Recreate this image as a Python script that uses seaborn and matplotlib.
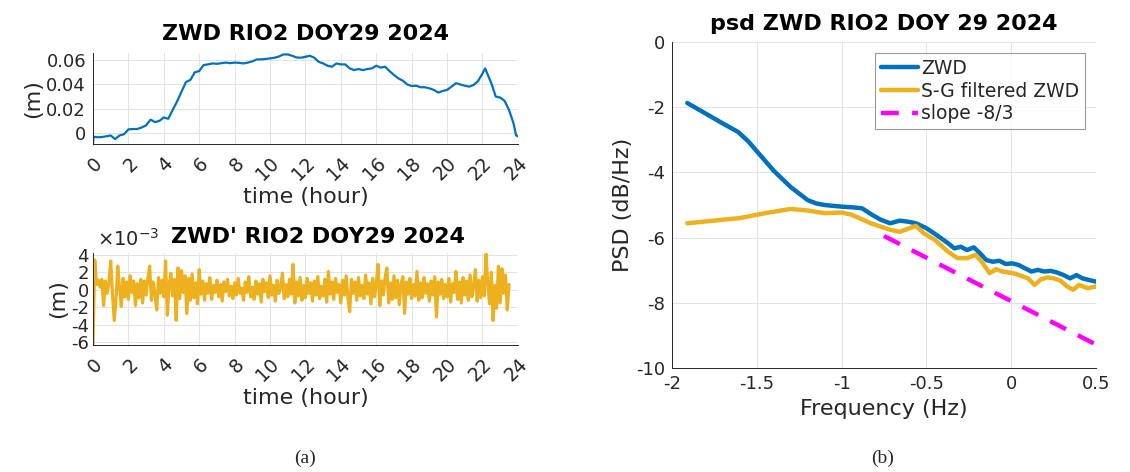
import numpy as np
import pandas as pd
import matplotlib
matplotlib.use("Agg")
import matplotlib.pyplot as plt
import matplotlib.transforms as mtransforms
import seaborn as sns

# ---------------- data ----------------
# Zenith wet delay (m) over the day
zwd_hours = [0.0, 0.03, 0.25, 0.5, 0.75, 1.0, 1.25, 1.5, 1.75, 2.0, 2.25, 2.5, 2.75,
             3.0, 3.25, 3.5, 3.75, 4.0, 4.25, 4.5, 4.75, 5.0, 5.25, 5.5, 5.75,
             6.0, 6.25, 6.5, 6.75, 7.0, 7.25, 7.5, 7.75, 8.0, 8.25, 8.5, 8.75,
             9.0, 9.25, 9.5, 9.75, 10.0, 10.25, 10.5, 10.75, 11.0, 11.25, 11.5, 11.75,
             12.0, 12.25, 12.5, 12.75, 13.0, 13.25, 13.5, 13.75, 14.0, 14.25, 14.5, 14.75,
             15.0, 15.25, 15.5, 15.75, 16.0, 16.25, 16.5, 16.75, 17.0, 17.25, 17.5, 17.75,
             18.0, 18.25, 18.5, 18.75, 19.0, 19.25, 19.5, 19.75, 20.0, 20.25, 20.5, 20.75,
             21.0, 21.25, 21.5, 21.75, 22.0, 22.15, 22.5, 22.75, 23.0, 23.25, 23.5, 23.75,
             23.9, 24.0]
zwd_m = [-0.009, -0.003, -0.0035, -0.0033, -0.0027, -0.002, -0.005, -0.002, -0.001, 0.003,
         0.0033, 0.0033, 0.0046, 0.0063, 0.011, 0.009, 0.010, 0.0128, 0.0117, 0.019,
         0.026, 0.034, 0.042, 0.0437, 0.050, 0.051, 0.056, 0.0565, 0.0573, 0.057,
         0.0575, 0.058, 0.0575, 0.058, 0.0578, 0.0573, 0.058, 0.059, 0.0606, 0.0606,
         0.061, 0.0614, 0.062, 0.063, 0.0647, 0.0647, 0.0636, 0.0622, 0.062,
         0.0628, 0.0636, 0.062, 0.0586, 0.0573, 0.0554, 0.0546, 0.0573, 0.0565, 0.0565,
         0.0532, 0.0518, 0.0527, 0.0518, 0.0527, 0.0532, 0.0554, 0.0538, 0.0546, 0.051,
         0.0478, 0.045, 0.0431, 0.040, 0.0387, 0.039, 0.0377, 0.0377, 0.0368, 0.0355,
         0.0333, 0.0346, 0.0355, 0.0382, 0.041, 0.040, 0.039, 0.0382, 0.0396, 0.0428,
         0.049, 0.0532, 0.041, 0.030, 0.0292, 0.0265, 0.019, 0.0082, -0.002, -0.0027]

# High-pass residual ZWD' (units of 1e-3 m), one value every 0.1 h from 0 to 23.5 h
resid_hours = [round(0.1 * k, 1) for k in range(236)]
resid_mm = [
    -6.3, 3.4, 0.6, 1.1, 0.3, 1.2, -1.8, 1.0, -0.4, 0.8,
    3.3, -0.5, -3.5, -1.0, 2.7, 0.2, -1.9, 1.3, -0.8, 0.9,
    -1.1, 1.6, -0.3, 1.0, -1.8, 0.7, -0.9, 1.2, -1.5, 1.0,
    -0.6, 1.3, 2.7, -1.2, 0.9, -0.5, -2.3, 1.4, -0.4, 1.1,
    -0.8, 3.3, -2.9, 0.6, 1.9, -0.7, 1.2, -3.5, 2.5, -1.0,
    2.2, -0.3, 1.6, -2.7, 1.3, -1.2, 1.8, -0.9, 0.8, -1.6,
    2.3, -0.5, 1.0, -1.2, 0.7, -0.4, 1.4, -1.1, 0.5, -0.3,
    1.1, -0.8, 0.6, -1.3, 0.9, -0.2, 1.2, -0.7, 0.4, -1.0,
    0.8, -0.6, 1.3, -0.4, 0.2, -1.2, 0.9, -0.3, 1.5, -0.8,
    0.3, -1.1, 1.0, -0.5, 0.7, -1.4, 1.2, -0.2, 0.8, -0.9,
    1.6, -0.6, 0.5, -1.3, 1.1, -0.4, 0.3, 1.9, -1.0, 0.6,
    -0.8, 1.2, -0.5, 2.9, -1.5, 0.9, -0.7, 1.4, -1.2, 0.5,
    -0.9, 1.3, -0.4, 0.8, -1.3, 1.0, -0.6, 1.5, -1.0, 0.4,
    -0.7, 1.2, -1.4, 2.1, -0.5, 0.9, -1.1, 1.3, -0.3, 0.6,
    -1.5, 1.1, -0.6, 1.6, -0.9, -2.5, 1.2, -0.4, 0.9, -1.2,
    1.4, -0.7, 0.5, -1.0, 1.7, -0.5, 0.8, -1.6, 1.3, -0.8,
    0.6, 2.9, -1.8, 1.0, -0.6, 1.4, 2.5, -1.5, 0.8, -1.1,
    1.6, -0.9, 1.1, -1.7, 0.7, 1.5, -2.7, 0.9, -0.5, 1.3,
    -1.0, 0.6, -0.7, 2.1, -1.2, 0.8, -0.9, 1.4, -0.4, 0.7,
    -1.3, 1.0, -0.6, 1.5, -3.1, 0.9, -0.5, 1.2, -1.0, 0.6,
    -0.8, 1.3, -1.4, 0.7, -0.3, 2.1, -1.1, 0.9, -1.5, 1.4,
    -0.6, 1.0, -1.2, 1.7, -0.8, 0.4, 2.3, -1.3, 1.1, -0.9,
    1.5, -0.7, 4.1, 0.8, -1.6, 2.0, -3.5, 0.5, -2.1, 2.7,
    -1.5, 2.4, -0.4, 1.7, -2.3, 0.6]

# Power spectral density, log10 frequency vs dB/Hz
psd_zwd_logf = [-1.91, -1.8, -1.7, -1.61, -1.55, -1.5, -1.45, -1.4, -1.35, -1.3, -1.25,
                -1.2, -1.15, -1.1, -1.0, -0.94, -0.88, -0.82, -0.77, -0.714, -0.657,
                -0.61, -0.5625, -0.5, -0.44, -0.373, -0.335, -0.297, -0.26, -0.22,
                -0.184, -0.146, -0.108, -0.07, -0.032, 0.006, 0.044, 0.081, 0.119,
                0.157, 0.195, 0.233, 0.27, 0.31, 0.347, 0.385, 0.42, 0.46, 0.5]
psd_zwd_db = [-1.87, -2.2, -2.5, -2.76, -3.05, -3.35, -3.65, -3.95, -4.2, -4.45, -4.65,
              -4.85, -4.95, -5.0, -5.05, -5.07, -5.1, -5.3, -5.45, -5.56, -5.48,
              -5.51, -5.56, -5.71, -5.92, -6.17, -6.33, -6.28, -6.38, -6.30,
              -6.48, -6.69, -6.74, -6.71, -6.81, -6.79, -6.84, -6.94, -7.04,
              -6.99, -7.04, -7.02, -7.07, -7.15, -7.25, -7.15, -7.25, -7.3, -7.35]

psd_sg_logf = [-1.91, -1.6, -1.45, -1.3, -1.2, -1.1, -1.0, -0.94, -0.828, -0.714, -0.657,
               -0.5625, -0.515, -0.45, -0.373, -0.316, -0.26, -0.21, -0.174, -0.127,
               -0.089, -0.051, -0.013, 0.025, 0.0625, 0.1, 0.138, 0.176, 0.214, 0.252,
               0.29, 0.33, 0.366, 0.40, 0.45, 0.5]
psd_sg_db = [-5.56, -5.4, -5.25, -5.12, -5.17, -5.25, -5.23, -5.30, -5.56, -5.76, -5.82,
             -5.64, -5.87, -6.07, -6.43, -6.63, -6.63, -6.53, -6.74, -7.09,
             -6.97, -7.04, -7.07, -7.11, -7.18, -7.25, -7.45, -7.28, -7.22, -7.25,
             -7.32, -7.5, -7.6, -7.45, -7.55, -7.5]

slope_logf = [-0.75, 0.5]
slope_db = [-5.95, -9.28]

hour_ticks = list(range(0, 25, 2))

# ---------------- style ----------------
sns.set_theme(style="whitegrid")
plt.rcParams["font.family"] = ["DejaVu Sans"]
INK = "#262626"
BLUE = "#0072BD"
YELLOW = "#EDB120"
MAGENTA = "#FF00FF"


def matlab_axes(ax, xsize=13, ysize=13):
    ax.set_facecolor("white")
    for side in ("top", "right"):
        ax.spines[side].set_visible(False)
    for side in ("left", "bottom"):
        ax.spines[side].set_visible(True)
        ax.spines[side].set_color(INK)
        ax.spines[side].set_linewidth(0.7)
    ax.grid(True, color="#e3e3e3", linewidth=0.7)
    ax.tick_params(axis="both", direction="in", length=4, width=0.6,
                   color=INK, labelcolor=INK)
    ax.tick_params(axis="x", labelsize=xsize)
    ax.tick_params(axis="y", labelsize=ysize, pad=5)


def rotate_hour_labels(ax, fig):
    offset = mtransforms.ScaledTranslation(13 / 100, 0, fig.dpi_scale_trans)
    for lab in ax.get_xticklabels():
        lab.set_rotation(45)
        lab.set_ha("right")
        lab.set_va("top")
        lab.set_transform(lab.get_transform() + offset)


fig = plt.figure(figsize=(11.3, 4.72), dpi=100)
fig.patch.set_facecolor("white")

# ---------------- ZWD time series ----------------
ax1 = fig.add_axes([0.0823, 0.695, 0.376, 0.193])
sns.lineplot(x=zwd_hours, y=zwd_m, ax=ax1, color=BLUE, linewidth=1.6,
             estimator=None, sort=False)
ax1.set_xlim(0, 24)
ax1.set_ylim(-0.009, 0.066)
ax1.set_xticks(hour_ticks)
ax1.set_yticks([0, 0.02, 0.04, 0.06])
ax1.set_yticklabels(["0", "0.02", "0.04", "0.06"])
matlab_axes(ax1, xsize=13.5, ysize=13)
ax1.tick_params(axis="x", pad=7)
rotate_hour_labels(ax1, fig)
ax1.set_xlabel("time (hour)", fontsize=16, color=INK, labelpad=2)
ax1.set_ylabel("(m)", fontsize=16, color=INK, labelpad=2)
ax1.set_title("ZWD RIO2 DOY29 2024", fontsize=16, fontweight="bold", pad=9,
              color="black")

# ---------------- ZWD' residual ----------------
ax2 = fig.add_axes([0.0823, 0.269, 0.376, 0.195])
sns.lineplot(x=resid_hours, y=resid_mm, ax=ax2, color=YELLOW, linewidth=2.3,
             estimator=None, sort=False)
ax2.set_xlim(0, 24)
ax2.set_ylim(-6.3, 4.2)
ax2.set_xticks(hour_ticks)
ax2.set_yticks([-6, -4, -2, 0, 2, 4])
ax2.set_yticklabels(["-6", "-4", "-2", "0", "2", "4"])
matlab_axes(ax2, xsize=13.5, ysize=13)
ax2.tick_params(axis="x", pad=7)
ax2.tick_params(axis="y", pad=3)
rotate_hour_labels(ax2, fig)
ax2.set_xlabel("time (hour)", fontsize=16, color=INK, labelpad=2)
ax2.set_ylabel("(m)", fontsize=16, color=INK, labelpad=2)
ax2.text(0.01, 1.03, r"$\times10^{-3}$", transform=ax2.transAxes, fontsize=14,
         color=INK, ha="left", va="bottom")
ax2.text(0.53, 1.07, "ZWD' RIO2 DOY29 2024", transform=ax2.transAxes,
         fontsize=16, fontweight="bold", ha="center", va="bottom", color="black")

# ---------------- PSD ----------------
ax3 = fig.add_axes([0.5947, 0.2203, 0.3752, 0.6907])
sns.lineplot(x=psd_zwd_logf, y=psd_zwd_db, ax=ax3, color=BLUE, linewidth=3.2,
             estimator=None, sort=False, label="ZWD")
sns.lineplot(x=psd_sg_logf, y=psd_sg_db, ax=ax3, color=YELLOW, linewidth=3.2,
             estimator=None, sort=False, label="S-G filtered ZWD")
sns.lineplot(x=slope_logf, y=slope_db, ax=ax3, color=MAGENTA, linewidth=3.2,
             estimator=None, sort=False, label="slope -8/3")
ax3.lines[-1].set_dashes([4, 3])
ax3.set_xlim(-2, 0.5)
ax3.set_ylim(-10, 0)
ax3.set_xticks([-2, -1.5, -1, -0.5, 0, 0.5])
ax3.set_xticklabels(["-2", "-1.5", "-1", "-0.5", "0", "0.5"])
ax3.set_yticks([-10, -8, -6, -4, -2, 0])
ax3.set_yticklabels(["-10", "-8", "-6", "-4", "-2", "0"])
matlab_axes(ax3, xsize=13, ysize=13)
ax3.tick_params(axis="x", pad=5)
ax3.set_xlabel("Frequency (Hz)", fontsize=16, color=INK, labelpad=4)
ax3.set_ylabel("PSD (dB/Hz)", fontsize=16, color=INK, labelpad=2)
ax3.set_title("psd ZWD RIO2 DOY 29 2024", fontsize=16, fontweight="bold", pad=9,
              color="black")
leg = ax3.legend(loc="upper right", fontsize=13.5, frameon=True, fancybox=False,
                 handlelength=2.0, handletextpad=0.15, labelspacing=0.2,
                 borderpad=0.3, borderaxespad=0.6)
leg.get_frame().set_edgecolor("#808080")
leg.get_frame().set_linewidth(0.8)
for t in leg.get_texts():
    t.set_color(INK)

# ---------------- panel captions ----------------
fig.text(305 / 1130, 1 - 458 / 472, "(a)", fontsize=14, family="Liberation Serif",
         color=INK, ha="center", va="center")
fig.text(883 / 1130, 1 - 458 / 472, "(b)", fontsize=14, family="Liberation Serif",
         color=INK, ha="center", va="center")

fig.savefig("out.png", dpi=100, facecolor="white")
